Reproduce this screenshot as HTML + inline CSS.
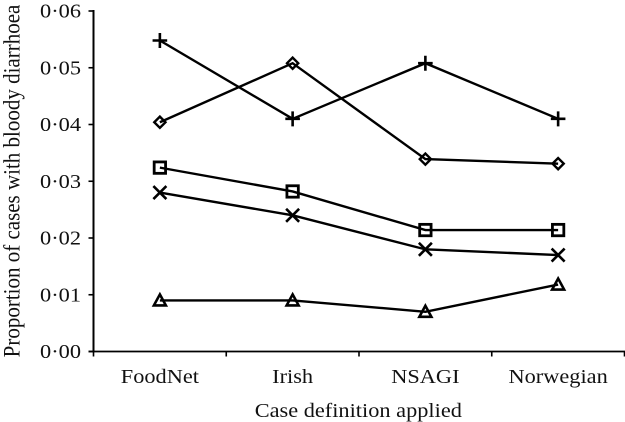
<!DOCTYPE html>
<html>
<head>
<meta charset="utf-8">
<style>
html,body{margin:0;padding:0;background:#fff;}
svg{display:block;}
text{font-family:"Liberation Serif",serif;fill:#111;}
</style>
</head>
<body>
<svg id="chart" width="625" height="422" viewBox="0 0 625 422" xmlns="http://www.w3.org/2000/svg"></svg>
<script>
const categories = ["FoodNet", "Irish", "NSAGI", "Norwegian"];
const yTicks = [0, 0.01, 0.02, 0.03, 0.04, 0.05, 0.06];
const yTickLabels = ["0·00", "0·01", "0·02", "0·03", "0·04", "0·05", "0·06"];
const plusValues = [0.0548, 0.041, 0.0508, 0.041];
const diamondValues = [0.0404, 0.0508, 0.0339, 0.0331];
const squareValues = [0.0324, 0.0282, 0.0214, 0.0214];
const crossValues = [0.028, 0.024, 0.018, 0.017];
const triangleValues = [0.009, 0.009, 0.007, 0.0118];

const svg = document.getElementById('chart');
const NS = 'http://www.w3.org/2000/svg';
const left = 93.5, right = 624.5, top0 = 11, bottom = 351.5, yMax = 0.06;
const stretch = 1.09;
const bandWidth = (right - left) / categories.length;
function xScale(i) { return left + bandWidth * (i + 0.5); }
function yScale(v) { return bottom - (v / yMax) * (bottom - top0); }
function make(tag, attrs, parent) {
  const el = document.createElementNS(NS, tag);
  for (const k in attrs) el.setAttribute(k, attrs[k]);
  (parent || svg).appendChild(el);
  return el;
}
function place(x, y) { return `translate(${x},${y}) scale(${stretch},1)`; }
const STROKE = '#000';

const yAxis = make('line', {x1: left, y1: top0 - 1, x2: left, y2: bottom + 1, stroke: STROKE, 'stroke-width': 2});


const xAxis = make('line', {x1: left - 5, y1: bottom, x2: right + 0.5, y2: bottom, stroke: STROKE, 'stroke-width': 1.8});



yTicks.forEach((v, i) => {
  const tick = make('line', {x1: left - 5, y1: yScale(v), x2: left, y2: yScale(v), stroke: STROKE, 'stroke-width': 1.6});
  
  
  const label = make('text', {'text-anchor': 'end', 'font-size': 20.5, transform: place(81, yScale(v) + 6.5)});
  label.textContent = yTickLabels[i];
  
  
});

for (let i = 0; i <= categories.length; i++) {
  const x = left + bandWidth * i;
  const tick = make('line', {x1: x, y1: bottom, x2: x, y2: bottom + 5, stroke: STROKE, 'stroke-width': 1.6});
  
  
}
categories.forEach((c, i) => {
  const label = make('text', {'text-anchor': 'middle', 'font-size': 20.5, transform: place(xScale(i), 383)});
  label.textContent = c;
  
  
});

const xTitle = make('text', {'text-anchor': 'middle', 'font-size': 20.5, transform: place(358.3, 417)});
xTitle.textContent = 'Case definition applied';



const yTitle = make('text', {'text-anchor': 'middle', 'font-size': 21, transform: `translate(19.5,181) scale(${stretch},1) rotate(-90)`});
yTitle.textContent = 'Proportion of cases with bloody diarrhoea';



function drawMarker(kind, x, y, g) {
  const base = {fill: 'none', stroke: STROKE};
  if (kind === 'plus') {
    make('path', Object.assign({}, base, {d: `M${x-7.3} ${y}H${x+7.3}M${x} ${y-7.5}V${y+7.5}`, 'stroke-width': 2.6}), g);
  } else if (kind === 'diamond') {
    make('path', Object.assign({}, base, {d: `M${x-5.6} ${y}L${x} ${y-5.6}L${x+5.6} ${y}L${x} ${y+5.6}Z`, 'stroke-width': 2.4}), g);
  } else if (kind === 'square') {
    make('rect', Object.assign({}, base, {x: x - 5.7, y: y - 5.7, width: 11.4, height: 11.4, 'stroke-width': 2.8}), g);
  } else if (kind === 'cross') {
    make('path', Object.assign({}, base, {d: `M${x-6.5} ${y-6.5}L${x+6.5} ${y+6.5}M${x-6.5} ${y+6.5}L${x+6.5} ${y-6.5}`, 'stroke-width': 2.6}), g);
  } else {
    make('path', Object.assign({}, base, {d: `M${x} ${y-6}L${x+6} ${y+5}L${x-6} ${y+5}Z`, 'stroke-width': 2.6}), g);
  }
}

function drawSeries(values, kind, name) {
  const g = make('g', {});
  
  
  const pts = values.map((v, i) => xScale(i) + ',' + yScale(v)).join(' ');
  make('polyline', {points: pts, fill: 'none', stroke: STROKE, 'stroke-width': 2.4}, g);
  values.forEach((v, i) => drawMarker(kind, xScale(i), yScale(v), g));
}
drawSeries(triangleValues, 'triangle', 'series-triangle');
drawSeries(crossValues, 'cross', 'series-cross');
drawSeries(squareValues, 'square', 'series-square');
drawSeries(diamondValues, 'diamond', 'series-diamond');
drawSeries(plusValues, 'plus', 'series-plus');
</script>
</body>
</html>
